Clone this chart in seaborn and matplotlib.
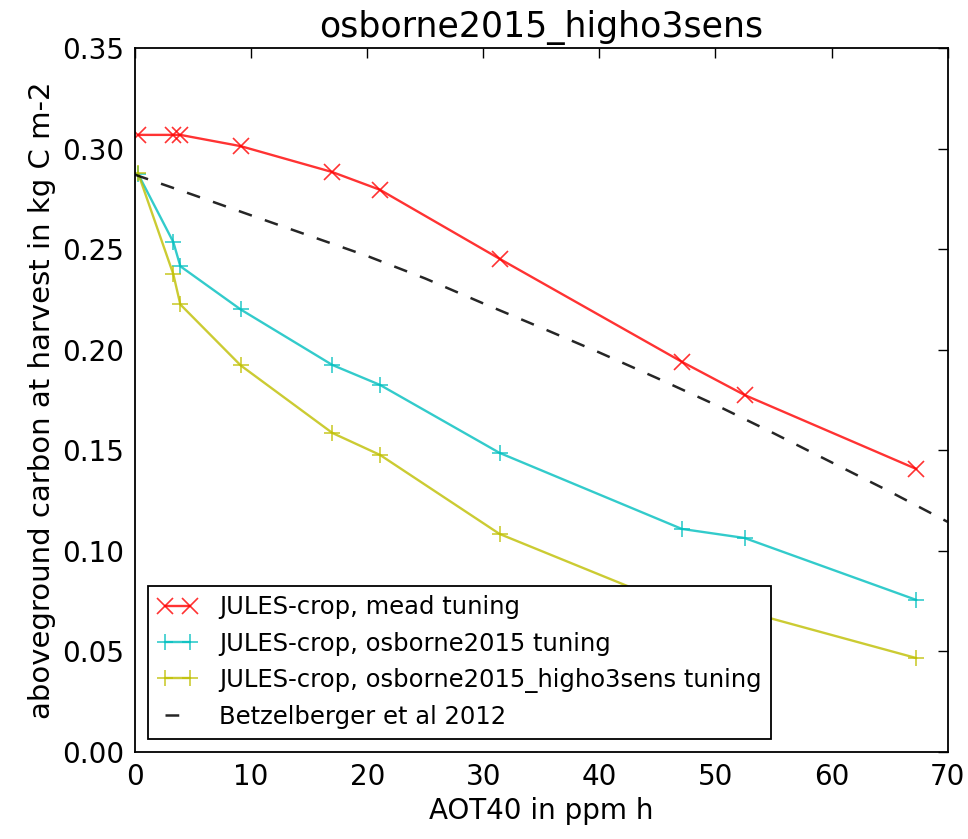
import numpy as np
import pandas as pd
import matplotlib
matplotlib.use("Agg")
import matplotlib.pyplot as plt
import seaborn as sns

# AOT40 values of the model runs (ppm h)
aot40 = [0.25, 3.3, 3.9, 9.1, 17.0, 21.1, 31.4, 47.1, 52.5, 67.3]
mead = [0.3068, 0.3068, 0.3068, 0.3012, 0.2883, 0.2795, 0.2452, 0.1940, 0.1775, 0.1407]
osborne = [0.2875, 0.2535, 0.2415, 0.2200, 0.1924, 0.1825, 0.1487, 0.1109, 0.1064, 0.0756]
higho3 = [0.2880, 0.2375, 0.2225, 0.1922, 0.1586, 0.1477, 0.1084, 0.0715, 0.0700, 0.0467]

# Betzelberger et al 2012 response curve
betz_x = [0, 5, 10, 15, 20, 25, 30, 35, 40, 45, 50, 55, 60, 65, 70]
betz_y = [0.2870, 0.2770, 0.2668, 0.2567, 0.2466, 0.2354, 0.2230, 0.2109, 0.1986, 0.1858, 0.1726, 0.1585, 0.1440, 0.1295, 0.1144]

labels = ["JULES-crop, mead tuning",
          "JULES-crop, osborne2015 tuning",
          "JULES-crop, osborne2015_higho3sens tuning",
          "Betzelberger et al 2012"]

sns.set_style("white")
plt.rcParams["font.family"] = ["DejaVu Sans"]
plt.rcParams["text.color"] = "black"
plt.rcParams["axes.labelcolor"] = "black"
plt.rcParams["xtick.color"] = "black"
plt.rcParams["ytick.color"] = "black"
plt.rcParams["xtick.direction"] = "in"
plt.rcParams["ytick.direction"] = "in"

fig = plt.figure(figsize=(9.68, 8.39), dpi=100)
ax = fig.add_axes([0.1395, 0.1037, 0.8395, 0.8391])

mk = dict(markersize=11, markeredgewidth=1.2, alpha=0.8, lw=1.7)
sns.lineplot(x=aot40, y=mead, ax=ax, color="r", marker="x", markeredgecolor="r",
             label=labels[0], **mk)
sns.lineplot(x=aot40, y=osborne, ax=ax, color="c", marker="+", markeredgecolor="c",
             label=labels[1], **mk)
sns.lineplot(x=aot40, y=higho3, ax=ax, color="y", marker="+", markeredgecolor="y",
             label=labels[2], **mk)
sns.lineplot(x=betz_x, y=betz_y, ax=ax, color="k", alpha=0.85, lw=1.8,
             linestyle=(0, (5.5, 5.5)), label=labels[3])

ax.set_xlim(0, 70)
ax.set_ylim(0, 0.35)
ax.set_xticks(np.arange(0, 71, 10))
ax.set_yticks(np.arange(0, 0.351, 0.05))
ax.yaxis.set_major_formatter(matplotlib.ticker.FormatStrFormatter("%.2f"))
ax.tick_params(which="both", top=True, right=True, length=7, width=1, labelsize=20, pad=8)
for s in ax.spines.values():
    s.set_color("black")
    s.set_linewidth(1.3)

ax.set_title("osborne2015_higho3sens", fontsize=25, pad=8)
ax.set_xlabel("AOT40 in ppm h", fontsize=20)
ax.set_ylabel("aboveground carbon at harvest in kg C m-2", fontsize=21, labelpad=4)

leg = ax.legend(loc="lower left", numpoints=2, fontsize=17.5, fancybox=False,
                frameon=True, framealpha=1, handlelength=1.6, borderaxespad=0.55,
                labelspacing=0.5, handletextpad=0.9)
leg.get_frame().set_edgecolor("black")
leg.get_frame().set_linewidth(1.3)

fig.savefig("out.png", dpi=100)
